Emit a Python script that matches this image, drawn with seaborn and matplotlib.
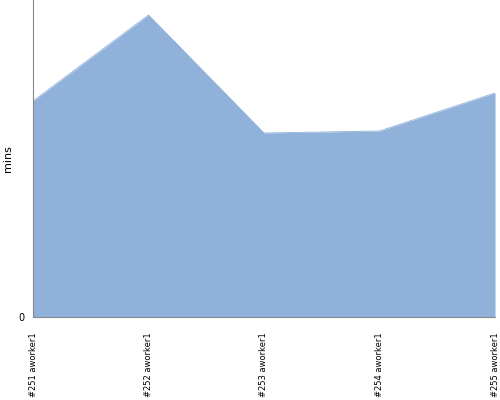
import numpy as np
import pandas as pd
import seaborn as sns
import matplotlib
matplotlib.use('Agg')
import matplotlib.pyplot as plt

# values (arbitrary units, axis max = 317)
builds = ['#251 aworker1', '#252 aworker1', '#253 aworker1', '#254 aworker1', '#255 aworker1']
mins = [216, 302, 184, 186, 224]
y_max = 317

df = pd.DataFrame({'build': builds, 'mins': mins})
df['pos'] = np.arange(len(builds))

sns.set_style('white')
plt.rcParams['font.family'] = ['DejaVu Sans']

fig = plt.figure(figsize=(5, 4), dpi=100)
ax = fig.add_axes([0.066, 0.2075, 0.924, 0.7925])

fill_color = '#8fb1da'
sns.lineplot(data=df, x='pos', y='mins', ax=ax, color=fill_color, linewidth=0.6, zorder=1)
ax.fill_between(df['pos'], 0, df['mins'], color=fill_color, linewidth=0, zorder=2)

ax.set_xlim(0, len(builds) - 1)
ax.set_ylim(0, y_max)
ax.set_xticks(df['pos'])
ax.set_xticklabels(builds, rotation=90, fontsize=6, color='black')
ax.set_yticks([0])
ax.set_yticklabels(['0'], fontsize=7, color='black')
ax.set_xlabel('')
ax.set_ylabel('mins', fontsize=8, color='black')

for side in ['top', 'right']:
    ax.spines[side].set_visible(False)
for side in ['left', 'bottom']:
    ax.spines[side].set_color('#888888')
    ax.spines[side].set_linewidth(0.8)
    ax.spines[side].set_zorder(3)
ax.tick_params(axis='both', length=3, width=0.8, color='#888888', pad=3)
ax.tick_params(axis='x', pad=8)

fig.savefig('out.png', dpi=100)
